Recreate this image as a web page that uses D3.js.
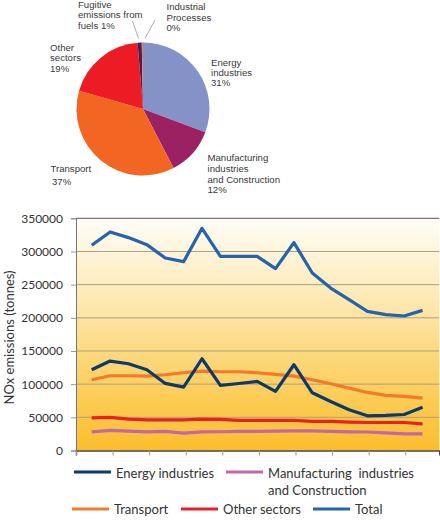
<!DOCTYPE html>
<html>
<head>
<meta charset="utf-8">
<script src="https://cdn.jsdelivr.net/npm/d3@7"></script>
<style>
  html, body { margin: 0; padding: 0; background: #fff; }
  svg { display: block; }
</style>
</head>
<body>
<svg id="chart" width="440" height="520"></svg>
<script>
// ---------- Data ----------
const pieLabels = ["Energy industries", "Manufacturing industries and Construction", "Transport", "Other sectors", "Fugitive emissions from fuels", "Industrial Processes"];
const pieValues = [30.7, 11.7, 37.0, 19.3, 1.0, 0.3];
const pieColors = ["#8592c8", "#9c2163", "#f26522", "#ed1c24", "#4b1b5c", "#e8834f"];

const years = [1990, 1991, 1992, 1993, 1994, 1995, 1996, 1997, 1998, 1999, 2000, 2001, 2002, 2003, 2004, 2005, 2006, 2007, 2008];
const energy = [121700, 134800, 130700, 121700, 101100, 95500, 138300, 98100, 101000, 104100, 89000, 129300, 87000, 73900, 61400, 52300, 52800, 54300, 65300];
const manufacturing = [28200, 30200, 29200, 28200, 28700, 26100, 28200, 28300, 28700, 28700, 29200, 29600, 29600, 28700, 28200, 27900, 26700, 25100, 25100];
const transport = [106600, 112700, 112700, 112200, 114200, 117200, 119700, 118700, 118700, 117200, 114700, 112200, 106600, 100600, 94000, 87500, 83000, 81500, 78900];
const otherSectors = [49300, 49800, 47200, 46200, 46200, 46200, 47200, 46800, 45300, 45300, 45300, 45300, 43800, 43800, 42800, 42200, 42200, 42200, 40200];
const total = [309300, 329400, 320900, 310300, 290100, 284600, 334900, 292700, 292500, 292700, 274100, 313300, 267500, 244900, 227300, 209700, 204700, 202700, 211200];

const yTicks = [0, 50000, 100000, 150000, 200000, 250000, 300000, 350000];
const seriesNames = ["Energy industries", "Manufacturing  industries", "Transport", "Other sectors", "Total"];
const seriesColors = ["#0d3a6e", "#c466a8", "#f47a2a", "#e8202a", "#2563ad"];
const yTitle = "NOx emissions (tonnes)";

// ---------- Setup ----------
const svg = d3.select("#chart");
const defs = svg.append("defs");

// ---------- Pie ----------
const cx = 143, cy = 109, r = 66.5;
const pie = d3.pie().sort(null).value(d => d)(pieValues);
const arc = d3.arc().innerRadius(0).outerRadius(r);
const pg = svg.append("g").attr("transform", `translate(${cx},${cy})`);
pg.selectAll("path").data(pie).join("path")
  .attr("d", arc)
  .attr("fill", (d, i) => pieColors[i]);

const pieFont = "'Liberation Sans', Arial, sans-serif";
function block(lines, x, ys) {
  const t = svg.append("text")
    .attr("font-family", pieFont).attr("font-size", 9.6).attr("fill", "#3a3a3a");
  lines.forEach((l, i) => {
    t.append("tspan").attr("x", x).attr("y", ys[i]).text(l);
  });
}
block(["Fugitive", "emissions from", "fuels " + Math.round(pieValues[4]) + "%"], 78, [7.5, 18, 28.5]);
block(["Industrial", "Processes", Math.round(pieValues[5]) + "%"], 166.5, [10, 20.5, 31]);
block(["Other", "sectors", Math.round(pieValues[3]) + "%"], 50, [51, 61, 71.5]);
block(["Energy", "industries", Math.round(pieValues[0]) + "%"], 211, [65.5, 75.5, 85.5]);
block(["Manufacturing", "industries", "and Construction", Math.round(pieValues[1]) + "%"], 207.5, [161, 171.5, 182.5, 193]);
block(["Transport"], 50.5, [171.5]);
block([Math.round(pieValues[2]) + "%"], 52, [185]);

// leader lines
svg.append("line").attr("x1", 132.5).attr("y1", 21).attr("x2", 138.5).attr("y2", 38.5)
  .attr("stroke", "#999").attr("stroke-width", 0.8);
svg.append("line").attr("x1", 155).attr("y1", 20).attr("x2", 145).attr("y2", 38.5)
  .attr("stroke", "#999").attr("stroke-width", 0.8);

// ---------- Line chart ----------
const L = 76, R = 439.3, T = 218.3, B = 450.5;
const x = d3.scaleLinear().domain([1989.145, 2008.91]).range([L, R]);
const y = d3.scaleLinear().domain([0, 350000]).range([B, T]);

const grad = defs.append("linearGradient").attr("id", "bg")
  .attr("x1", 0).attr("y1", 0).attr("x2", 0).attr("y2", 1);
grad.append("stop").attr("offset", "0%").attr("stop-color", "#fffdf8");
grad.append("stop").attr("offset", "35%").attr("stop-color", "#fde9b2");
grad.append("stop").attr("offset", "70%").attr("stop-color", "#fcd165");
grad.append("stop").attr("offset", "100%").attr("stop-color", "#fbbd2c");

svg.append("rect").attr("x", L).attr("y", T).attr("width", R - L).attr("height", B - T)
  .attr("fill", "url(#bg)");

// gridlines
svg.append("g").selectAll("line").data(yTicks.filter(v => v > 0 && v < 350000)).join("line")
  .attr("x1", L).attr("x2", R)
  .attr("y1", d => y(d)).attr("y2", d => y(d))
  .attr("stroke", "#ab9f86").attr("stroke-width", 1);

// top border
svg.append("line").attr("x1", L).attr("x2", R).attr("y1", T).attr("y2", T)
  .attr("stroke", "#555").attr("stroke-width", 1);

// y axis
const yAxis = svg.append("g").attr("transform", `translate(${L},0)`)
  .call(d3.axisLeft(y).tickValues(yTicks).tickSize(5).tickPadding(8).tickFormat(d3.format("d")));
yAxis.select(".domain").attr("stroke", "#777");
yAxis.selectAll(".tick line").attr("stroke", "#999");
yAxis.selectAll(".tick text").attr("font-family", "Lato, sans-serif").attr("font-size", 12)
  .attr("fill", "#333");

// x axis
const xTickVals = d3.range(0, 10).map(k => x.domain()[0] + 2 * k * 0.995);
const xAxis = svg.append("g").attr("transform", `translate(0,${B})`)
  .call(d3.axisBottom(x).tickValues(xTickVals).tickSize(5).tickFormat(""));
xAxis.select(".domain").attr("stroke", "#4d4533").attr("stroke-width", 1.5);
xAxis.selectAll(".tick line").attr("stroke", "#999");

// y title
svg.append("text")
  .attr("transform", `translate(14,${(T + B) / 2 + 3}) rotate(-90)`)
  .attr("text-anchor", "middle")
  .attr("font-family", "Lato, sans-serif").attr("font-size", 13).attr("fill", "#333")
  .text(yTitle);

// lines
const series = [manufacturing, otherSectors, transport, energy, total];
const seriesColorIdx = [1, 3, 2, 0, 4];
const line = d3.line().x((d, i) => x(years[i])).y(d => y(d));
svg.append("g").selectAll("path").data(series).join("path")
  .attr("d", d => line(d))
  .attr("fill", "none")
  .attr("stroke", (d, i) => seriesColors[seriesColorIdx[i]])
  .attr("stroke-width", 3.2)
  .attr("stroke-linejoin", "round");

// ---------- Legend ----------
const legendItems = [
  { i: 0, sx: 74, ty: 478, sy: 472 },
  { i: 1, sx: 226, ty: 478, sy: 472 },
  { i: 2, sx: 72, ty: 514, sy: 509 },
  { i: 3, sx: 181, ty: 514, sy: 509 },
  { i: 4, sx: 313, ty: 514, sy: 509 }
];
const lg = svg.append("g");
legendItems.forEach(it => {
  lg.append("line").attr("x1", it.sx).attr("x2", it.sx + 37)
    .attr("y1", it.sy).attr("y2", it.sy)
    .attr("stroke", seriesColors[it.i]).attr("stroke-width", 3);
  lg.append("text").attr("x", it.sx + 42).attr("y", it.ty)
    .attr("font-family", "Lato, sans-serif").attr("font-size", 13).attr("fill", "#333")
    .attr("xml:space", "preserve").style("white-space", "pre")
    .text(seriesNames[it.i]);
});
lg.append("text").attr("x", 268).attr("y", 495)
  .attr("font-family", "Lato, sans-serif").attr("font-size", 13).attr("fill", "#333")
  .text("and Construction");
</script>
</body>
</html>
